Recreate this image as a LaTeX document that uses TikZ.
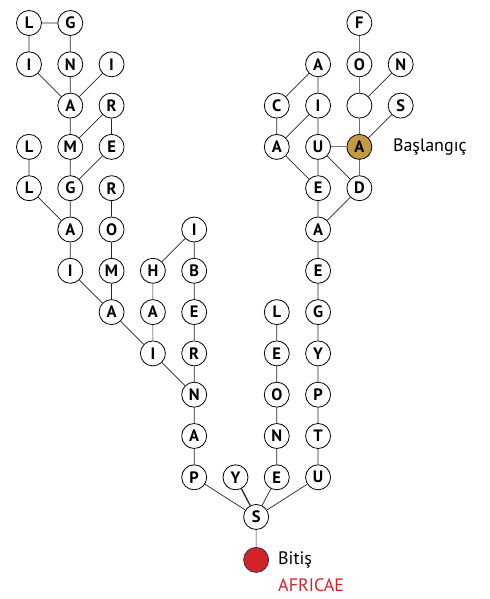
\documentclass[tikz,border=0pt]{standalone}
\usepackage{fontspec}
\setmainfont{PT Sans}
\definecolor{gold}{HTML}{C29A42}
\definecolor{redend}{HTML}{D2232A}
\definecolor{linegray}{HTML}{777777}
\begin{document}
\begin{tikzpicture}[x=41.3pt,y=-41.3pt,
  lt/.style={circle,draw=black,line width=0.8pt,fill=white,minimum size=25pt,inner sep=0pt,font=\fontsize{16.5}{16.5}\selectfont\bfseries},
  edge/.style={draw=black!85,line width=0.7pt},
  lbl/.style={font=\fontsize{18}{18}\selectfont,anchor=west,inner sep=0pt}]
\useasboundingbox (-0.702,-0.557) rectangle (11.162,13.947);
% left tree
\node[lt] (l00) at (0,0) {L};
\node[lt] (l01) at (1,0) {G};
\node[lt] (l10) at (0,1) {I};
\node[lt] (l11) at (1,1) {N};
\node[lt] (l12) at (2,1) {I};
\node[lt] (l21) at (1,2) {A};
\node[lt] (l22) at (2,2) {R};
\node[lt] (l30) at (0,3) {L};
\node[lt] (l31) at (1,3) {M};
\node[lt] (l32) at (2,3) {E};
\node[lt] (l40) at (0,4) {L};
\node[lt] (l41) at (1,4) {G};
\node[lt] (l42) at (2,4) {R};
\node[lt] (l51) at (1,5) {A};
\node[lt] (l52) at (2,5) {O};
\node[lt] (l54) at (4,5) {I};
\node[lt] (l61) at (1,6) {I};
\node[lt] (l62) at (2,6) {M};
\node[lt] (l63) at (3,6) {H};
\node[lt] (l64) at (4,6) {B};
\node[lt] (l72) at (2,7) {A};
\node[lt] (l73) at (3,7) {A};
\node[lt] (l74) at (4,7) {E};
\node[lt] (l83) at (3,8) {I};
\node[lt] (l84) at (4,8) {R};
\node[lt] (l94) at (4,9) {N};
\node[lt] (la4) at (4,10) {A};
\node[lt] (lb4) at (4,11) {P};
\node[lt] (lb5) at (5,11) {Y};
% middle column
\node[lt] (m7) at (6,7) {L};
\node[lt] (m8) at (6,8) {E};
\node[lt] (m9) at (6,9) {O};
\node[lt] (ma) at (6,10) {N};
\node[lt] (mb) at (6,11) {E};
% right tree
\node[lt] (r08) at (8,0) {F};
\node[lt] (r17) at (7,1) {A};
\node[lt] (r18) at (8,1) {O};
\node[lt] (r19) at (9,1) {N};
\node[lt] (r26) at (6,2) {C};
\node[lt] (r27) at (7,2) {I};
\node[lt] (r28) at (8,2) {};
\node[lt] (r29) at (9,2) {S};
\node[lt] (r36) at (6,3) {A};
\node[lt] (r37) at (7,3) {U};
\node[lt,fill=gold] (start) at (8,3) {A};
\node[lt] (r47) at (7,4) {E};
\node[lt] (r48) at (8,4) {D};
\node[lt] (r57) at (7,5) {A};
\node[lt] (r67) at (7,6) {E};
\node[lt] (r77) at (7,7) {G};
\node[lt] (r87) at (7,8) {Y};
\node[lt] (r97) at (7,9) {P};
\node[lt] (ra7) at (7,10) {T};
\node[lt] (rb7) at (7,11) {U};
% bottom
\node[lt] (s) at (5.5,11.96) {S};
\node[circle,draw=black!80,line width=0.8pt,fill=redend,minimum size=25pt,inner sep=0pt] (end) at (5.5,13.0) {};
\node[lbl] (startlbl) at (8.81,3) {Başlangıç};
\node[lbl] (endlbl) at (6.03,13.0) {Bitiş};
\node[lbl,text=redend] (africae) at (6.03,13.62) {AFRICAE};
% edges
\path[edge]
 (l00) -- (l01) (l00) -- (l10) (l01) -- (l11)
 (l10) -- (l21) (l11) -- (l21) (l12) -- (l21)
 (l21) -- (l31) (l22) -- (l31) (l22) -- (l32)
 (l30) -- (l40) (l31) -- (l41) (l32) -- (l41)
 (l40) -- (l51) (l41) -- (l51) (l42) -- (l52)
 (l51) -- (l61) (l52) -- (l62) (l54) -- (l63) (l54) -- (l64)
 (l61) -- (l72) (l62) -- (l72) (l63) -- (l73) (l64) -- (l74)
 (l72) -- (l83) (l73) -- (l83) (l74) -- (l84)
 (l83) -- (l94) (l84) -- (l94) (l94) -- (la4) (la4) -- (lb4)
 (m7) -- (m8) (m8) -- (m9) (m9) -- (ma) (ma) -- (mb)
 (r08) -- (r18) (r18) -- (r28) (r19) -- (r28)
 (r17) -- (r26) (r17) -- (r27) (r27) -- (r37) (r26) -- (r36) (r27) -- (r36)
 (r28) -- (start) (r29) -- (start)
 (r36) -- (r47) (r37) -- (r47) (r37) -- (r48) (start) -- (r48)
 (r47) -- (r57) (r48) -- (r57)
 (r57) -- (r67) (r67) -- (r77) (r77) -- (r87) (r87) -- (r97) (r97) -- (ra7) (ra7) -- (rb7)
 (lb4) -- (s) (mb) -- (s) (rb7) -- (s) (s) -- (end);
\path[edge,draw=linegray,line width=1pt] (r37) -- (start);
\path[edge,line width=1.3pt] (lb5) -- (s);
\end{tikzpicture}
\end{document}
